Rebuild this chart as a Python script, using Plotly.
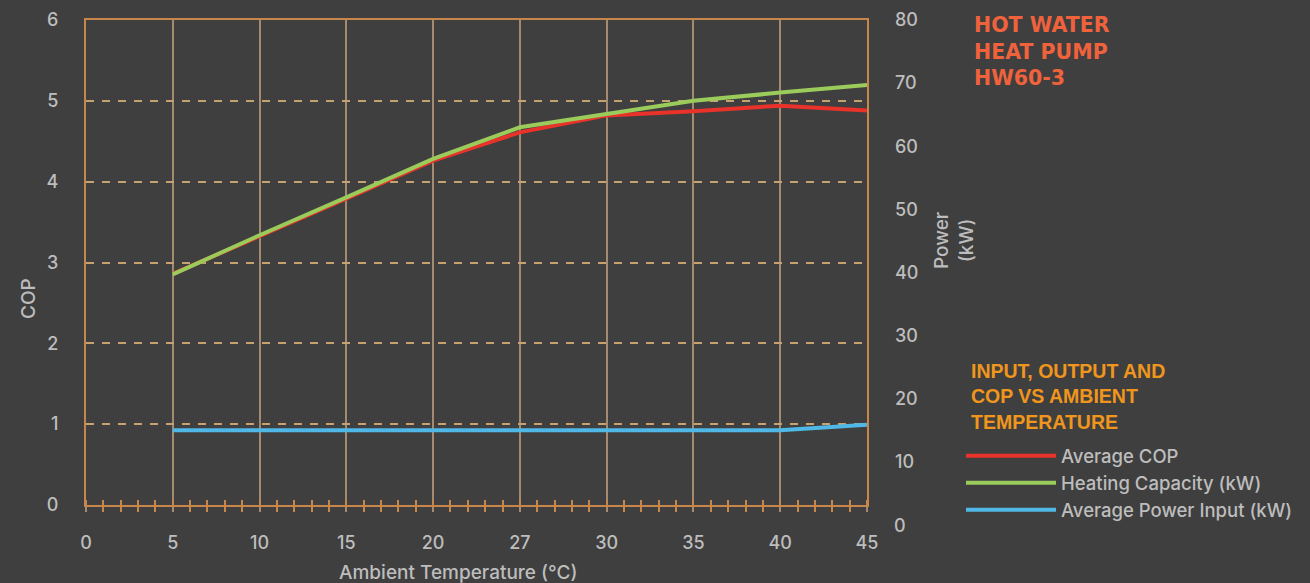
import plotly.graph_objects as go

# ---- data ----
x_labels = ["0", "5", "10", "15", "20", "27", "30", "35", "40", "45"]
temps = ["5", "10", "15", "20", "27", "30", "35", "40", "45"]
avg_cop = [2.86, 3.32, 3.79, 4.26, 4.61, 4.82, 4.87, 4.94, 4.88]
heating_kw = [39.7, 45.9, 51.9, 58.0, 63.0, 65.1, 67.2, 68.5, 69.7]
power_kw = [15.0, 15.0, 15.0, 15.0, 15.0, 15.0, 15.0, 15.0, 15.9]
cop_ticks = [0, 1, 2, 3, 4, 5, 6]
power_ticks = [10, 20, 30, 40, 50, 60, 70, 80]

xpos = [x_labels.index(t) for t in temps]

BG = "#3f3f3f"
AXIS = "#c8874a"
GRID_V = "#a48a6e"
GRID_H = "#c6a172"
TXT = "#bdbdbd"
FONT = "Inter, Liberation Sans, Arial, sans-serif"
FS = 18
W = 500

fig = go.Figure()
fig.add_trace(go.Scatter(x=xpos, y=avg_cop, name="Average COP", mode="lines",
                         line=dict(color="#e8322a", width=4), xaxis="x", yaxis="y"))
fig.add_trace(go.Scatter(x=xpos, y=heating_kw, name="Heating Capacity (kW)", mode="lines",
                         line=dict(color="#9bcb5b", width=4), xaxis="x", yaxis="y2"))
fig.add_trace(go.Scatter(x=xpos, y=power_kw, name="Average Power Input (kW)", mode="lines",
                         line=dict(color="#50b8e6", width=4), xaxis="x2", yaxis="y2"))

xr = [0, len(x_labels) - 1]
tf = dict(size=FS, color=TXT, family=FONT, weight=W)
fig.update_layout(
    width=1310, height=583,
    paper_bgcolor=BG, plot_bgcolor=BG,
    margin=dict(l=86, r=443, t=20, b=78, autoexpand=False),
    font=dict(family=FONT, color=TXT, size=FS),
    showlegend=True,
    legend=dict(x=(961 - 86) / 781, xanchor="left", y=0.14, yanchor="top",
                bgcolor="rgba(0,0,0,0)",
                font=dict(size=18.5, color=TXT, family=FONT, weight=W),
                itemwidth=90, tracegroupgap=0),
    xaxis=dict(range=xr, tickmode="array", tickvals=list(range(len(x_labels))),
               ticktext=x_labels, showline=True, linecolor=AXIS, linewidth=2,
               mirror=True, showgrid=True, gridcolor=GRID_V, gridwidth=2,
               zeroline=False, ticks="outside", ticklen=5, tickcolor=GRID_V,
               tickwidth=2, ticklabelstandoff=15, tickfont=tf,
               minor=dict(dtick=0.2, tick0=0, ticks="outside", ticklen=5,
                          tickcolor=AXIS, tickwidth=1.5, showgrid=False)),
    xaxis2=dict(range=xr, overlaying="x", anchor="y", side="bottom",
                showgrid=False, showticklabels=False, zeroline=False, showline=False,
                ticks="", tickvals=[],
                minor=dict(dtick=0.2, tick0=0, ticks="inside", ticklen=5,
                           tickcolor=AXIS, tickwidth=1.5, showgrid=False)),
    yaxis=dict(range=[0, 6], tickvals=cop_ticks, showline=True, linecolor=AXIS,
               linewidth=2, mirror=True, showgrid=True, gridcolor=GRID_H, gridwidth=2,
               griddash="8px,8px", zeroline=False, ticks="", ticklabelstandoff=22,
               tickfont=tf),
    yaxis2=dict(range=[3.17, 80], tickvals=power_ticks, overlaying="y", side="right",
                anchor="x", showgrid=False, zeroline=False, showline=False, ticks="",
                ticklabelstandoff=27, tickfont=tf),
)

annotations = [
    dict(text="COP", x=28, y=298, textangle=-90),
    dict(text="Ambient Temperature (°C)", x=458, y=572),
    dict(text="Power<br>(kW)", x=954, y=241, textangle=-90),
    dict(text="0", x=900, y=525),
]
for a in annotations:
    fig.add_annotation(text=a["text"], xref="paper", yref="paper",
                       x=(a["x"] - 86) / 781, y=(505 - a["y"]) / 485,
                       xanchor="center", yanchor="middle", showarrow=False,
                       textangle=a.get("textangle", 0),
                       font=dict(size=19 if a["text"] != "0" else FS, color=TXT,
                                 family=FONT, weight=W))

fig.add_annotation(text="HOT WATER<br>HEAT PUMP<br>HW60-3", xref="paper", yref="paper",
                   x=(972 - 86) / 781, y=(505 - 51) / 485,
                   xanchor="left", yanchor="middle", align="left", showarrow=False,
                   font=dict(size=20.5, color="#f0623c", family="DejaVu Sans",
                             weight="bold"))

fig.add_annotation(text="INPUT, OUTPUT AND<br>COP VS AMBIENT<br>TEMPERATURE",
                   xref="paper", yref="paper", x=(969 - 86) / 781, y=(505 - 396) / 485,
                   xanchor="left", yanchor="middle", align="left", showarrow=False,
                   font=dict(size=19.5, color="#f0961c", family="Liberation Sans, Arial",
                             weight="bold"))

fig.write_html("out.html", config={"displayModeBar": False},
               post_script="document.body.style.margin='0';")
